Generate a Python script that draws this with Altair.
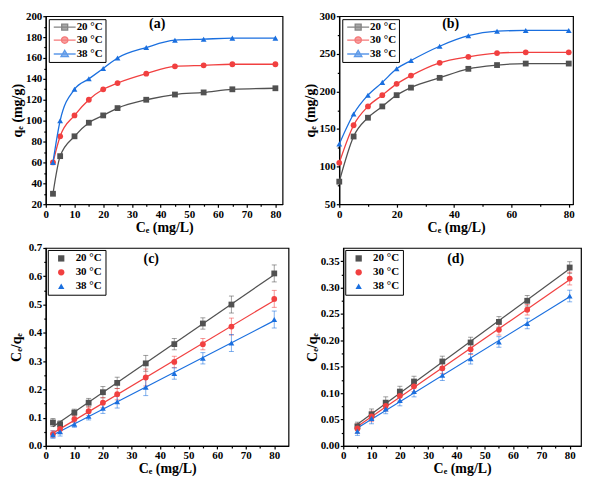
import altair as alt
import pandas as pd

FONT = "Liberation Serif"
temps = ["20 °C", "30 °C", "38 °C"]
colors = ["#515151", "#F14040", "#1A6FDF"]
shapes = ["square", "circle", "triangle-up"]
legend_paths = [
    "M-2.2,0H2.2M-0.6,-0.6H0.6V0.6H-0.6Z",
    "M-2.2,0H2.2M0.65,0A0.65,0.65,0,1,1,-0.65,0A0.65,0.65,0,1,1,0.65,0Z",
    "M-2.2,0H2.2M0,-0.75L0.75,0.55H-0.75Z",
]

# (a) isotherm
xa = [2.5, 5, 10, 15, 20, 25, 35, 45, 55, 65, 80]
qa_20 = [30, 66, 85, 98, 105, 112, 120, 125, 127, 130, 131]
qa_30 = [60, 85, 105, 120, 130, 136, 145, 152, 153, 154, 154]
qa_38 = [60, 100, 130, 140, 150, 160, 170, 177, 178, 179, 179]

# (b) isotherm
xb = [0, 5, 10, 15, 20, 25, 35, 45, 55, 65, 80]
qb_20 = [80, 140, 165, 180, 195, 205, 218, 230, 235, 237, 237]
qb_30 = [105, 155, 180, 195, 210, 221, 238, 246, 251, 252, 252]
qb_38 = [130, 170, 195, 212, 230, 241, 260, 274, 280, 281, 281]

# (c) linear Langmuir
xc = [2.5, 5, 10, 15, 20, 25, 35, 45, 55, 65, 80]
rc_20 = [0.083, 0.077, 0.118, 0.153, 0.190, 0.223, 0.292, 0.360, 0.433, 0.500, 0.610]
ec_20 = [0.014, 0.012, 0.012, 0.015, 0.020, 0.020, 0.028, 0.020, 0.020, 0.030, 0.030]
rc_30 = [0.042, 0.060, 0.095, 0.123, 0.153, 0.183, 0.242, 0.297, 0.360, 0.422, 0.520]
ec_30 = [0.012, 0.015, 0.012, 0.015, 0.018, 0.020, 0.030, 0.020, 0.020, 0.030, 0.030]
rc_38 = [0.040, 0.050, 0.077, 0.105, 0.133, 0.156, 0.208, 0.256, 0.310, 0.364, 0.447]
ec_38 = [0.013, 0.015, 0.011, 0.013, 0.018, 0.022, 0.030, 0.020, 0.020, 0.030, 0.030]

# (d) linear Langmuir
xd = [5, 10, 15, 20, 25, 35, 45, 55, 65, 80]
rd_20 = [0.037, 0.060, 0.082, 0.103, 0.122, 0.160, 0.196, 0.235, 0.275, 0.338]
ed_20 = [0.008, 0.010, 0.011, 0.010, 0.010, 0.010, 0.010, 0.010, 0.010, 0.011]
rd_30 = [0.033, 0.056, 0.076, 0.095, 0.113, 0.147, 0.183, 0.220, 0.258, 0.317]
ed_30 = [0.009, 0.010, 0.010, 0.010, 0.010, 0.010, 0.010, 0.010, 0.010, 0.012]
rd_38 = [0.028, 0.052, 0.070, 0.086, 0.103, 0.134, 0.165, 0.197, 0.232, 0.284]
ed_38 = [0.008, 0.010, 0.009, 0.010, 0.010, 0.010, 0.010, 0.010, 0.010, 0.011]

# axis ticks
xa_ticks = [0, 10, 20, 30, 40, 50, 60, 70, 80]
xa_minor = [5, 15, 25, 35, 45, 55, 65, 75]
ya_ticks = [20, 40, 60, 80, 100, 120, 140, 160, 180, 200]
ya_minor = [30, 50, 70, 90, 110, 130, 150, 170, 190]
xb_ticks = [0, 20, 40, 60, 80]
xb_minor = [10, 30, 50, 70]
yb_ticks = [50, 100, 150, 200, 250, 300]
yb_minor = [75, 125, 175, 225, 275]
yc_ticks = [0, 0.1, 0.2, 0.3, 0.4, 0.5, 0.6, 0.7]
yc_minor = [0.05, 0.15, 0.25, 0.35, 0.45, 0.55, 0.65]
yd_ticks = [0, 0.05, 0.10, 0.15, 0.20, 0.25, 0.30, 0.35]
yd_minor = [0.025, 0.075, 0.125, 0.175, 0.225, 0.275, 0.325]


def long_df(x, ys, es=None):
    rows = []
    for i, t in enumerate(temps):
        for j, xv in enumerate(x):
            r = {"x": xv, "y": ys[i][j], "T": t}
            if es is not None:
                r["lo"] = ys[i][j] - es[i][j]
                r["hi"] = ys[i][j] + es[i][j]
            rows.append(r)
    return pd.DataFrame(rows)


df_a = long_df(xa, [qa_20, qa_30, qa_38])
df_b = long_df(xb, [qb_20, qb_30, qb_38])
df_c = long_df(xc, [rc_20, rc_30, rc_38], [ec_20, ec_30, ec_38])
df_d = long_df(xd, [rd_20, rd_30, rd_38], [ed_20, ed_30, ed_38])

XT = "Cₑ (mg/L)"


class Enc:
    def __init__(self, xdom, xvals, ydom, yvals, ytitle, yfmt=None, ytp=1):
        self.xs = alt.Scale(domain=xdom, nice=False, zero=False)
        self.ys = alt.Scale(domain=ydom, nice=False, zero=False)
        self.xax = alt.Axis(values=xvals, title=XT)
        yax = dict(values=yvals, title=ytitle, titlePadding=ytp)
        if yfmt:
            yax["format"] = yfmt
        self.yax = alt.Axis(**yax)

    def x(self):
        return alt.X("x:Q", scale=self.xs, axis=self.xax)

    def y(self, field="y"):
        return alt.Y(f"{field}:Q", scale=self.ys, axis=self.yax)


def minor_layer(df, e, xminor, yminor):
    ax = dict(labels=False, domain=False, tickSize=2, title=None, grid=False)
    return alt.Chart(df).mark_point(opacity=0).encode(
        x=alt.X("x:Q", scale=e.xs, axis=alt.Axis(values=xminor, orient="bottom", **ax)),
        y=alt.Y("y:Q", scale=e.ys, axis=alt.Axis(values=yminor, orient="left", **ax)),
    )


def label_layer(text, px, py):
    return alt.Chart(pd.DataFrame({"lab": [text]})).mark_text(
        font=FONT, fontWeight="bold", fontSize=14, color="black", baseline="middle"
    ).encode(x=alt.value(px), y=alt.value(py), text="lab:N")


def isotherm(df, e, xminor, yminor, label, w, h, lx, ly):
    layers = []
    for t, c, s in zip(temps, colors, shapes):
        sub = alt.Chart(df).transform_filter(alt.datum.T == t)
        layers.append(sub.mark_line(interpolate="monotone", strokeWidth=1.3, color=c).encode(
            x=e.x(), y=e.y()))
        layers.append(sub.mark_point(shape=s, filled=True, size=34, color=c, opacity=1).encode(
            x=e.x(), y=e.y()))
    leg = alt.Legend(title=None, orient="top-left", offset=3, strokeColor="black",
                     fillColor="white", padding=2, labelFont=FONT, labelFontWeight="bold",
                     labelFontSize=11, labelColor="black", symbolSize=100,
                     symbolStrokeWidth=1.3, symbolOffset=8, labelOffset=6, rowPadding=1)
    sc = alt.Scale(domain=temps, range=colors)
    legl = alt.Chart(df).transform_filter("false").mark_point(strokeWidth=1.3).encode(
        x=e.x(), y=e.y(),
        fill=alt.Fill("T:N", scale=sc, legend=leg),
        stroke=alt.Stroke("T:N", scale=sc, legend=leg),
        shape=alt.Shape("T:N", scale=alt.Scale(domain=temps, range=legend_paths), legend=leg),
    )
    main = alt.layer(*layers, legl, label_layer(label, lx, ly))
    return alt.layer(main, minor_layer(df, e, xminor, yminor)).resolve_axis(
        x="independent", y="independent").properties(width=w, height=h)


def linear(df, e, xminor, yminor, label, w, h, lx, ly):
    sc = alt.Scale(domain=temps, range=colors)
    leg = alt.Legend(title=None, orient="top-left", offset=2, strokeColor="black",
                     fillColor="white", padding=3, labelFont=FONT, labelFontWeight="bold",
                     labelFontSize=11, labelColor="black", symbolSize=40,
                     symbolOffset=5, labelOffset=9, rowPadding=2)
    layers = []
    for t, c in zip(temps, colors):
        sub = alt.Chart(df).transform_filter(alt.datum.T == t)
        layers.append(sub.mark_rule(opacity=0.55, strokeWidth=1, color=c).encode(
            x=e.x(), y=e.y("lo"), y2="hi:Q"))
        layers.append(sub.mark_tick(orient="horizontal", size=5, thickness=1, opacity=0.55,
                                    color=c).encode(x=e.x(), y=e.y("lo")))
        layers.append(sub.mark_tick(orient="horizontal", size=5, thickness=1, opacity=0.55,
                                    color=c).encode(x=e.x(), y=e.y("hi")))
        layers.append(sub.transform_regression("x", "y").mark_line(strokeWidth=1.2, color=c).encode(
            x=e.x(), y=e.y()))
    pts = alt.Chart(df).mark_point(filled=True, size=34, opacity=1).encode(
        x=e.x(), y=e.y(),
        color=alt.Color("T:N", scale=sc, legend=leg),
        shape=alt.Shape("T:N", scale=alt.Scale(domain=temps, range=shapes), legend=leg),
    )
    main = alt.layer(*layers, pts, label_layer(label, lx, ly))
    return alt.layer(main, minor_layer(df, e, xminor, yminor)).resolve_axis(
        x="independent", y="independent").properties(width=w, height=h)


ea = Enc([0, 82.5], xa_ticks, [20, 200], ya_ticks, "qₑ (mg/g)")
eb = Enc([0, 81.5], xb_ticks, [50, 300], yb_ticks, "qₑ (mg/g)")
ec = Enc([0, 85], xa_ticks, [0, 0.7], yc_ticks, "Cₑ/qₑ", ".1f", 5)
ed = Enc([0, 84], xa_ticks, [0, 0.375], yd_ticks, "Cₑ/qₑ", ".2f", 1)

pa = isotherm(df_a, ea, xa_minor, ya_minor, "(a)", 238, 189, 112, 8)
pb = isotherm(df_b, eb, xb_minor, yb_minor, "(b)", 235, 189, 112, 8)
pc = linear(df_c, ec, xa_minor, yc_minor, "(c)", 244, 199, 106, 11)
pd_ = linear(df_d, ed, xa_minor, yd_minor, "(d)", 239, 199, 113, 11)

RES = dict(color="independent", shape="independent", fill="independent", stroke="independent")
top = alt.hconcat(pa, pb, spacing=19).resolve_scale(**RES)
bot = alt.hconcat(pc, pd_, spacing=15).resolve_scale(**RES)

chart = alt.vconcat(top, bot, spacing=6).resolve_scale(**RES).properties(
    padding={"left": 0, "top": 0, "right": 0, "bottom": 0}
).configure_axis(
    grid=False, labelFont=FONT, labelFontWeight="bold", labelFontSize=11, labelColor="black",
    titleFont=FONT, titleFontWeight="bold", titleFontSize=14, titleColor="black",
    domainColor="black", domainWidth=1.2, tickColor="black", tickWidth=1.2, tickSize=3,
    labelPadding=1, titlePadding=1, labelFlush=False,
).configure_legend(strokeColor="black", strokeWidth=1).configure_view(
    stroke="black", strokeWidth=1.2)

chart.save("out.html", embed_options={"renderer": "svg", "actions": False})
